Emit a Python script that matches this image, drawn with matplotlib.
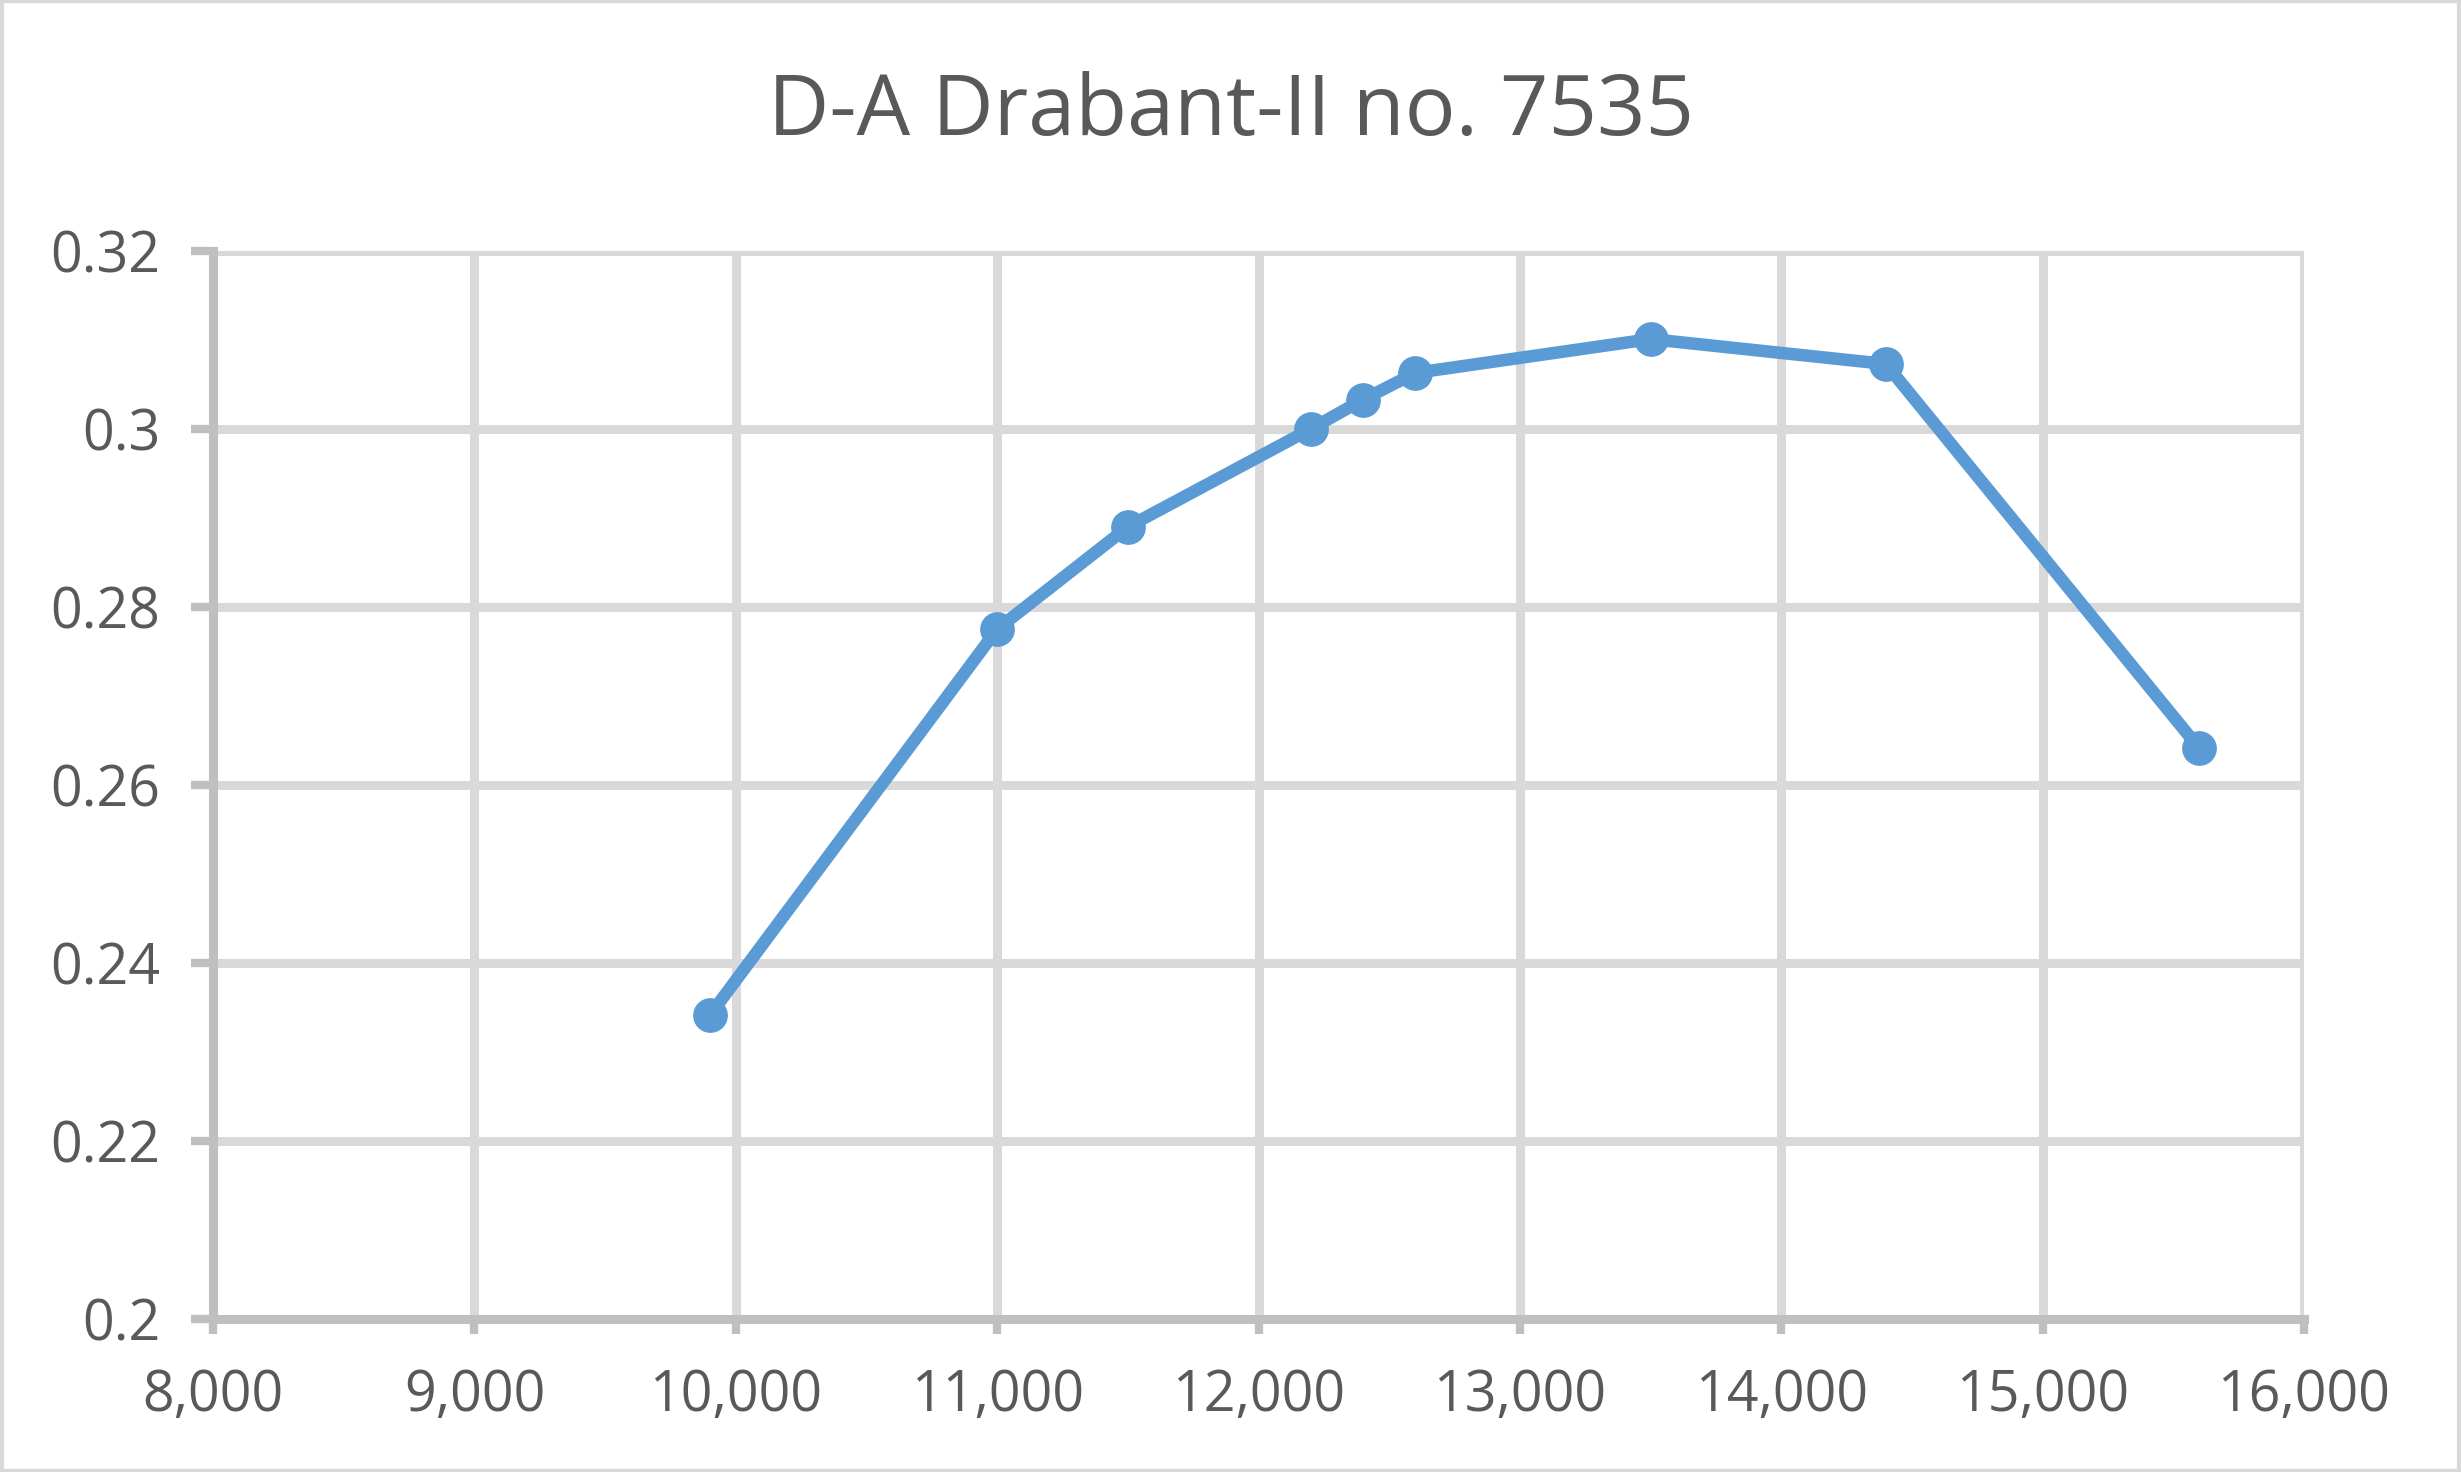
import matplotlib
matplotlib.use("Agg")
import matplotlib.pyplot as plt
from matplotlib.ticker import FuncFormatter, MultipleLocator
from matplotlib.patches import Rectangle

# values
rpm = [9900, 11000, 11500, 12200, 12400, 12600, 13500, 14400, 15600]
values = [0.2341, 0.2775, 0.2890, 0.3000, 0.3033, 0.3063, 0.3101, 0.3073, 0.2641]
title = "D-A Drabant-II no. 7535"

plt.rcParams['font.family'] = ['Open Sans', 'DejaVu Sans']

fig = plt.figure(figsize=(24.61, 14.72), dpi=100)
ax = fig.add_axes([0.0866, 0.104, 0.8496, 0.7255])

grid_col = '#d9d9d9'
axis_col = '#bfbfbf'
text_col = '#595959'

ax.plot(rpm, values, color='#5b9bd5', linewidth=9, marker='o',
        markersize=24, zorder=3, solid_joinstyle='round')

ax.set_xlim(8000, 16000)
ax.set_ylim(0.2, 0.32)
ax.xaxis.set_major_locator(MultipleLocator(1000))
ax.yaxis.set_major_locator(MultipleLocator(0.02))
ax.xaxis.set_major_formatter(FuncFormatter(lambda v, p: f"{v:,.0f}"))
ax.yaxis.set_major_formatter(FuncFormatter(lambda v, p: f"{v:.2f}".rstrip('0').rstrip('.')))

ax.grid(True, color=grid_col, linewidth=6.5, zorder=0)
ax.set_axisbelow(True)
for s in ['top', 'right']:
    ax.spines[s].set_visible(False)
for s in ['left', 'bottom']:
    ax.spines[s].set_color(axis_col)
    ax.spines[s].set_linewidth(6.5)
ax.tick_params(axis='y', length=16, width=6, color=axis_col, pad=22,
               labelsize=40, labelcolor=text_col)
ax.tick_params(axis='x', length=11, width=6, color=axis_col, pad=24,
               labelsize=40, labelcolor=text_col)

fig.text(0.5, 0.923, title, ha='center', va='center', fontsize=61, color=text_col)

fig.patches.append(Rectangle((0.001, 0.001), 0.998, 0.998, transform=fig.transFigure,
                             fill=False, edgecolor=grid_col, linewidth=3))

fig.savefig('out.png', dpi=100)
